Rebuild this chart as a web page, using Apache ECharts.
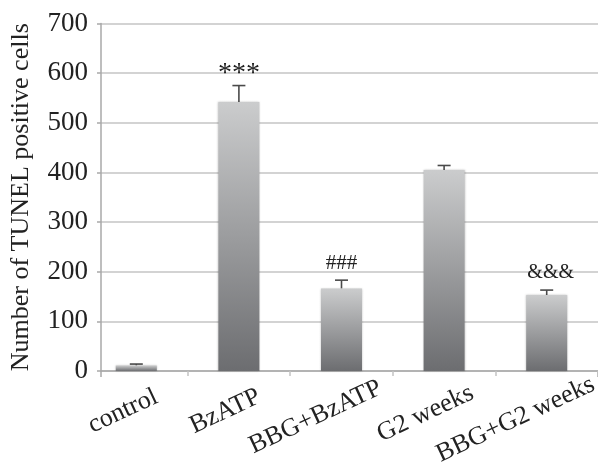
<!DOCTYPE html>
<html><head><meta charset="utf-8">
<script src="https://cdn.jsdelivr.net/npm/echarts@6/dist/echarts.min.js"></script>
<style>html,body{margin:0;padding:0;background:#fff}#c{width:598px;height:466px}</style>
</head><body><div id="c"></div>
<script>
// ---- data ----
const categories = ['control', 'BzATP', 'BBG+BzATP', 'G2 weeks', 'BBG+G2 weeks'];
const values = [11, 542, 166, 405, 153];
const errors = [3, 33, 17, 9, 10];
const annotations = ['', '***', '###', '', '&&&'];
const yMin = 0, yMax = 700, yInterval = 100;
const yAxisName = 'Number of TUNEL positive cells';

// ---- style ----
const FONT = '"Liberation Serif", "Times New Roman", serif';
const TXT = '#222';
const annFont = {'***': 28, '###': 21, '&&&': 20};
const measureCtx = document.createElement('canvas').getContext('2d');
function textWidth(t, size) { measureCtx.font = size + 'px ' + FONT; return measureCtx.measureText(t).width; }

const TOP = 23.5, HEIGHT = 347.5;
const chart = echarts.init(document.getElementById('c'));
chart.setOption({
  animation: false,
  backgroundColor: '#fff',
  grid: [
    {left: 101, right: 0, top: TOP, height: HEIGHT},
    {left: 85, right: -2, top: TOP, height: HEIGHT}
  ],
  xAxis: [
    {gridIndex: 0, type: 'value', min: 0, max: 1, interval: 1,
     axisLine: {show: true, lineStyle: {color: '#a9a9a9', width: 1.5}},
     axisTick: {show: true, length: 6, lineStyle: {color: '#a9a9a9', width: 1.5}},
     axisLabel: {show: false}, splitLine: {show: false}},
    {gridIndex: 1, type: 'category', data: categories,
     axisLine: {show: false},
     axisTick: {show: true, length: 5, interval: function (i) { return i !== 0; }, lineStyle: {color: '#c4c4c4', width: 1.5}},
     axisLabel: {show: false}}
  ],
  yAxis: [
    {gridIndex: 0, type: 'value', min: yMin, max: yMax, interval: yInterval,
     name: yAxisName, nameLocation: 'middle', nameGap: 67,
     nameTextStyle: {fontFamily: FONT, fontSize: 26, color: TXT},
     axisLine: {show: true, lineStyle: {color: '#a9a9a9', width: 1.5}},
     axisTick: {show: true, length: 4, lineStyle: {color: '#a9a9a9', width: 1.5}},
     axisLabel: {fontFamily: FONT, fontSize: 27, color: TXT, margin: 13},
     splitLine: {show: true, lineStyle: {color: '#c4c4c4', width: 1.5}}},
    {gridIndex: 1, type: 'value', min: yMin, max: yMax, interval: yInterval, show: false}
  ],
  series: [
    {type: 'bar', xAxisIndex: 1, yAxisIndex: 1, data: values, barWidth: 41,
     itemStyle: {
       color: new echarts.graphic.LinearGradient(0, 0, 0, 1, [
         {offset: 0, color: '#cbcccd'}, {offset: 1, color: '#6c6d70'}]),
       shadowColor: 'rgba(0,0,0,0.25)', shadowBlur: 2
     }},
    {type: 'custom', xAxisIndex: 1, yAxisIndex: 1, clip: false,
     data: values.map((v, i) => [i, v, errors[i]]),
     renderItem: function (params, api) {
       const i = api.value(0), v = api.value(1), e = api.value(2);
       const b = api.coord([i, v]), t = api.coord([i, v + e]);
       const st = {stroke: '#4a4a4a', lineWidth: 1.6};
       return {type: 'group', children: [
         {type: 'line', shape: {x1: b[0], y1: b[1], x2: t[0], y2: t[1]}, style: st},
         {type: 'line', shape: {x1: t[0] - 6.5, y1: t[1], x2: t[0] + 6.5, y2: t[1]}, style: st}
       ]};
     }},
    {type: 'custom', xAxisIndex: 1, yAxisIndex: 1, clip: false,
     data: values.map((v, i) => [i, v + errors[i]]),
     renderItem: function (params, api) {
       const i = api.value(0);
       const txt = annotations[i];
       if (!txt) return null;
       const p = api.coord([i, api.value(1)]);
       return {type: 'text', x: p[0] + (txt === '&&&' ? 4 : 0), y: p[1] - (txt === '***' ? 12 : 17),
         style: {text: txt, fontFamily: FONT, fontSize: annFont[txt] || 22, fill: TXT,
                 align: 'center', verticalAlign: 'middle'}};
     }},
    {type: 'custom', xAxisIndex: 1, yAxisIndex: 1, clip: false,
     data: categories.map((c, i) => [i, 0]),
     renderItem: function (params, api) {
       const i = api.value(0);
       const p = api.coord([i, 0]);
       const w = textWidth(categories[i], 26);
       return {type: 'text', x: p[0], y: p[1] + 34, rotation: 25 * Math.PI / 180,
         style: {text: categories[i], x: 0.3 * w, y: 0, fontFamily: FONT, fontSize: 26, fill: TXT,
                 align: 'right', verticalAlign: 'middle'}};
     }}
  ]
});
</script></body></html>
